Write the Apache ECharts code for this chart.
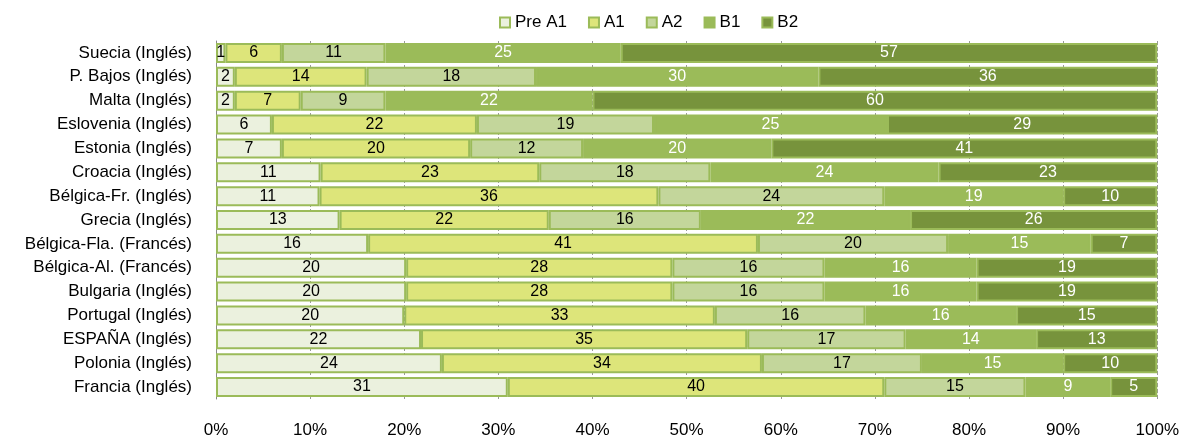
<!DOCTYPE html>
<html>
<head>
<meta charset="utf-8">
<script src="https://cdn.jsdelivr.net/npm/echarts@6/dist/echarts.min.js"></script>
<style>
html,body{margin:0;padding:0;background:#fff;}
#chart{width:1182px;height:439px;}
</style>
</head>
<body>
<div id="chart"></div>
<script>
const categories = ["Suecia (Inglés)","P. Bajos (Inglés)","Malta (Inglés)","Eslovenia (Inglés)","Estonia (Inglés)","Croacia (Inglés)","Bélgica-Fr. (Inglés)","Grecia (Inglés)","Bélgica-Fla. (Francés)","Bélgica-Al. (Francés)","Bulgaria (Inglés)","Portugal (Inglés)","ESPAÑA (Inglés)","Polonia (Inglés)","Francia (Inglés)"];
const seriesNames = ["Pre A1","A1","A2","B1","B2"];
const preA1 = [1,2,2,6,7,11,11,13,16,20,20,20,22,24,31];
const a1    = [6,14,7,22,20,23,36,22,41,28,28,33,35,34,40];
const a2    = [11,18,9,19,12,18,24,16,20,16,16,16,17,17,15];
const b1    = [25,30,22,25,20,24,19,22,15,16,16,16,14,15,9];
const b2    = [57,36,60,29,41,23,10,26,7,19,19,15,13,10,5];
const xTicks = [0,10,20,30,40,50,60,70,80,90,100];

const raw = [preA1,a1,a2,b1,b2];
const colors = ["#EBF1DE","#DDE57A","#C3D69B","#9BBB59","#77933C"];
const labelColors = ["#000","#000","#000","#fff","#fff"];
const sums = categories.map((c,i)=>raw.reduce((s,arr)=>s+arr[i],0));
const FONT = 'Liberation Sans, Arial, sans-serif';

const series = raw.map((arr,k)=>({
  name: seriesNames[k],
  type: 'bar',
  stack: 'total',
  barWidth: 20,
  data: arr.map((v,i)=>v/sums[i]*100),
  itemStyle: {color: colors[k], borderColor: '#9BBB59', borderWidth: 2},
  label: {
    show: true,
    position: 'inside',
    color: labelColors[k],
    fontFamily: FONT,
    fontSize: 16,
    formatter: p => String(arr[p.dataIndex])
  },
  emphasis: {disabled: true}
}));

const chart = echarts.init(document.getElementById('chart'), null, {renderer:'canvas'});
chart.setOption({
  animation: false,
  textStyle: {fontFamily: FONT},
  legend: {
    data: seriesNames,
    icon: 'rect',
    left: 494,
    top: 9,
    itemWidth: 10,
    itemHeight: 10,
    itemGap: 21,
    textStyle: {fontSize: 17, color: '#000', fontFamily: FONT},
    itemStyle: {borderColor: '#9BBB59', borderWidth: 2}
  },
  grid: {left: 216, right: 24, top: 41, bottom: 39, containLabel: false},
  xAxis: {
    type: 'value',
    min: xTicks[0],
    max: xTicks[xTicks.length-1],
    interval: xTicks[1]-xTicks[0],
    axisLabel: {formatter: '{value}%', fontSize: 17, color: '#000', margin: 23},
    axisLine: {show: false},
    axisTick: {show: false},
    splitLine: {show: true, lineStyle: {color: '#999', type: 'dashed', width: 1}}
  },
  yAxis: {
    type: 'category',
    inverse: true,
    data: categories,
    axisLabel: {fontSize: 17, color: '#000', margin: 24},
    axisLine: {show: true, lineStyle: {color: '#888'}},
    axisTick: {show: false}
  },
  series: series
});
</script>
</body>
</html>
